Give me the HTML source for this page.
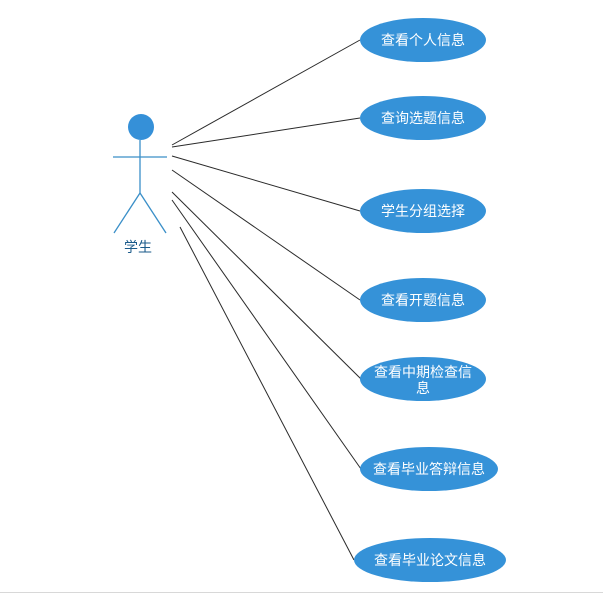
<!DOCTYPE html>
<html><head><meta charset="utf-8"><style>
html,body{margin:0;padding:0;background:#fff;}
svg{display:block}
text{font-family:"Liberation Sans","Noto Sans CJK SC",sans-serif;}
</style></head><body>
<svg width="603" height="613" viewBox="0 0 603 613" xmlns="http://www.w3.org/2000/svg">
<rect width="603" height="613" fill="#fff"/>
<line x1="0" y1="592.5" x2="603" y2="592.5" stroke="#d8d8d8" stroke-width="1"/>
<g stroke="#2a2a2a" stroke-width="1">
<line x1="172" y1="145" x2="360" y2="40"/>
<line x1="172" y1="147" x2="360" y2="118"/>
<line x1="172" y1="156" x2="360" y2="211"/>
<line x1="172" y1="170" x2="360" y2="300"/>
<line x1="172" y1="192" x2="361" y2="379"/>
<line x1="172" y1="200" x2="361" y2="469"/>
<line x1="180" y1="227" x2="354" y2="560"/>
</g>
<g stroke="#3a8fc8" stroke-width="1.3" fill="none">
<line x1="140" y1="140" x2="140" y2="193"/>
<line x1="113" y1="157" x2="167" y2="157"/>
<line x1="140" y1="193" x2="114" y2="233"/>
<line x1="140" y1="193" x2="166" y2="233"/>
</g>
<circle cx="141" cy="127" r="13" fill="#3590d8"/>
<text x="138" y="252" font-size="14" fill="#1a5a8a" text-anchor="middle">学生</text>
<g fill="#3592d8">
<ellipse cx="423" cy="40" rx="63" ry="22"/>
<ellipse cx="423" cy="118" rx="63" ry="22"/>
<ellipse cx="423" cy="211" rx="63" ry="22"/>
<ellipse cx="423" cy="300" rx="63" ry="22"/>
<ellipse cx="423" cy="379" rx="63" ry="22"/>
<ellipse cx="429" cy="469" rx="69" ry="22"/>
<ellipse cx="430" cy="560" rx="76" ry="22"/>
</g>
<g fill="#fff" font-size="14" text-anchor="middle">
<text x="423" y="45">查看个人信息</text>
<text x="423" y="123">查询选题信息</text>
<text x="423" y="216">学生分组选择</text>
<text x="423" y="305">查看开题信息</text>
<text x="423" y="377">查看中期检查信</text>
<text x="423" y="393">息</text>
<text x="429" y="474">查看毕业答辩信息</text>
<text x="430" y="565">查看毕业论文信息</text>
</g>
</svg>
</body></html>
